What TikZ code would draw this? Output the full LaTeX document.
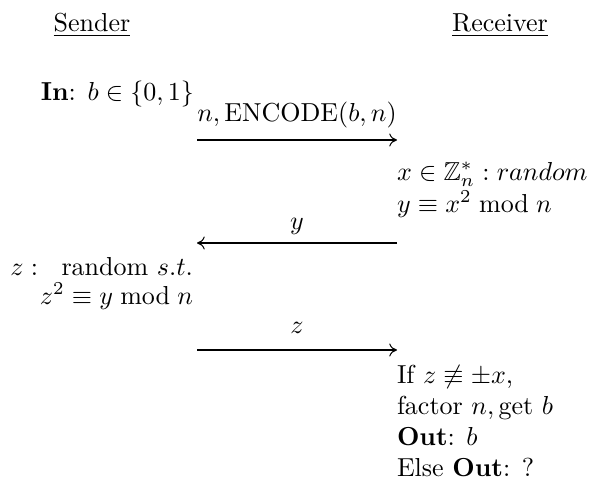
\documentclass[tikz,border=0pt]{standalone}
\usepackage{amsmath,amssymb}
\usetikzlibrary{arrows.meta}
\begin{document}
\begin{tikzpicture}[x=0.3846pt,y=-0.3846pt,
  txt/.style={inner sep=0pt, outer sep=0pt},
  msg/.style={-{To[length=3pt,width=5pt]}, line width=0.4pt},
  lbl/.style={inner sep=0pt, anchor=base}]
\useasboundingbox (0,0) rectangle (604,487);
% headers
\node[txt, anchor=base] (snd) at (92,31) {\underline{Sender}};
\node[txt, anchor=base] (rcv) at (500,31) {\underline{Receiver}};
% sender side
\node[txt, anchor=base east] (in) at (194,100) {\textbf{In}: $b\in\{0,1\}$};
\node[txt, anchor=base east] (z1) at (193,275) {$z:$\hspace{9pt}random $s.t.$};
\node[txt, anchor=base east] (z2) at (193,304) {$z^2\equiv y \bmod n$};
% receiver side
\node[txt, anchor=base west] (r1) at (397,180) {$x\in\mathbb{Z}_n^*: random$};
\node[txt, anchor=base west] (r2) at (397,212) {$y\equiv x^2 \bmod n$};
\node[txt, anchor=base west] (r3) at (397,383) {If $z\not\equiv\pm x$,};
\node[txt, anchor=base west] (r4) at (397,414) {factor $n,\text{get }b$};
\node[txt, anchor=base west] (r5) at (397,445) {\textbf{Out}: $b$};
\node[txt, anchor=base west] (r6) at (397,476) {Else \textbf{Out}: ?};
% messages
\coordinate (m1s) at (197,140); \coordinate (m1e) at (397,140);
\coordinate (m2s) at (397,243); \coordinate (m2e) at (197,243);
\coordinate (m3s) at (197,350); \coordinate (m3e) at (397,350);
\draw[msg] (m1s) -- (m1e);
\draw[msg] (m2s) -- (m2e);
\draw[msg] (m3s) -- (m3e);
\node[lbl] (l1) at (297,121) {$n,\mathrm{ENCODE}(b,n)$};
\node[lbl] (l2) at (297,229) {$y$};
\node[lbl] (l3) at (297,333) {$z$};
\end{tikzpicture}
\end{document}
